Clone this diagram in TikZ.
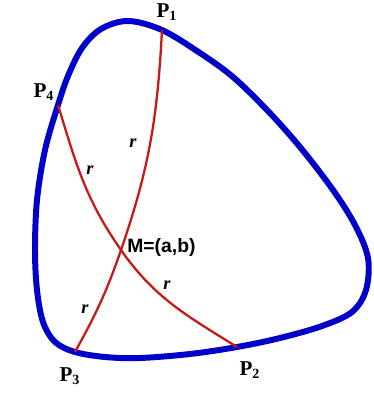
\documentclass[tikz,border=0pt]{standalone}
\usepackage{fontspec}
\setmainfont{Liberation Serif}
\setsansfont{Liberation Sans}
\usepackage{tikz}
\usetikzlibrary{positioning, calc}
\definecolor{curveblue}{RGB}{0, 0, 200}
\definecolor{chordred}{RGB}{200, 25, 25}

\begin{document}
\begin{tikzpicture}[x=0.02cm, y=0.02cm,
    outline/.style={draw=curveblue, line width=3.4pt},
    chord/.style={draw=chordred, line width=1.3pt},
    plabel/.style={font=\fontsize{12}{13}\selectfont\bfseries, inner sep=0pt},
    rlabel/.style={font=\fontsize{10.5}{12}\selectfont\bfseries\itshape, inner sep=0pt}]
  \useasboundingbox (0,0) rectangle (373,-398);

  % points on the curve and the centre
  \coordinate (P1) at (162,-30);
  \coordinate (P2) at (237,-347);
  \coordinate (P3) at (75,-352);
  \coordinate (P4) at (58,-105);
  \coordinate (M) at (121,-250);

  % closed curve
  \draw[outline] plot[smooth cycle, tension=0.55] coordinates {
    (128,-21) (P1) (200,-53) (233,-77) (267,-110) (300,-147) (333,-190)
    (355,-225) (368,-258) (366,-290) (352,-312) (322,-326) (280,-338) (P2)
    (190,-354) (140,-358) (105,-357) (P3) (55,-342) (43,-322) (37,-290)
    (35,-250) (37,-200) (45,-150) (P4) (68,-76) (82,-48) (101,-29)};

  % the two arcs of radius r
  \draw[chord] (P1) to[out=267, in=71] (M) to[out=251, in=61] (P3);
  \draw[chord] (P4) to[out=287, in=125] (M) to[out=305, in=148] (P2);

  % labels
  \node[plabel] (lP1) at (167,-12) {P\textsubscript{1}};
  \node[plabel] (lP2) at (250,-370) {P\textsubscript{2}};
  \node[plabel] (lP3) at (70,-376) {P\textsubscript{3}};
  \node[plabel] (lP4) at (44,-92) {P\textsubscript{4}};
  \node[font=\fontsize{11}{12}\selectfont\sffamily\bfseries, inner sep=0pt, anchor=west]
    (lM) at (127,-248) {M=(a,b)};
  \node[rlabel] (r1) at (133,-143) {r};
  \node[rlabel] (r2) at (90,-170) {r};
  \node[rlabel] (r3) at (167,-285) {r};
  \node[rlabel] (r4) at (85,-309) {r};
\end{tikzpicture}
\end{document}
